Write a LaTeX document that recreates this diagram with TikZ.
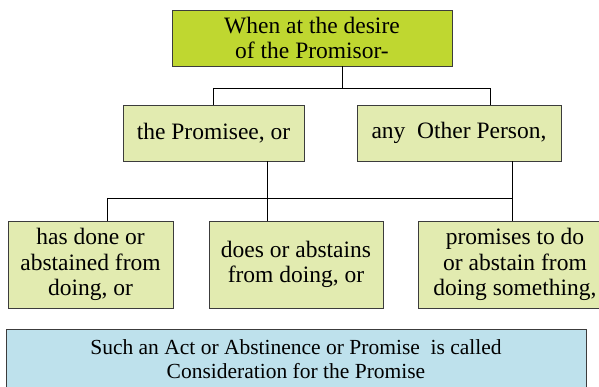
\documentclass[tikz,border=0pt]{standalone}
\usepackage{fontspec}
\setmainfont{Liberation Serif}
\definecolor{topgreen}{RGB}{191,215,48}
\definecolor{lightgreen}{RGB}{226,235,176}
\definecolor{lightblue}{RGB}{190,225,236}
\definecolor{edge}{RGB}{60,60,60}
\tikzset{
  boxbase/.style={draw=edge, line width=0.9pt, rectangle, align=center, inner sep=0pt,
    font=\fontsize{23.5}{25.5}\selectfont},
  topbox/.style={boxbase, fill=topgreen},
  greenbox/.style={boxbase, fill=lightgreen},
  bluebox/.style={boxbase, fill=lightblue, font=\fontsize{21.5}{23.5}\selectfont},
  conn/.style={draw=black, line width=0.9pt}
}
\begin{document}
\begin{tikzpicture}[x=1pt,y=1pt]
\useasboundingbox (0,0) rectangle (599,-387);
\clip (0,0) rectangle (599,-387);
\node[topbox, minimum width=280pt, minimum height=56pt] (top) at (312,-38) {When at the desire\\of the Promisor-};
\node[greenbox, minimum width=181pt, minimum height=56pt] (pee) at (213.5,-133) {the Promisee, or};
\node[greenbox, minimum width=204pt, minimum height=56pt] (oth) at (459,-133) {any\ \ Other Person,};
\node[greenbox, minimum width=165pt, minimum height=87pt] (b1) at (90.5,-264.5) {has done or\\abstained from\\doing, or};
\node[greenbox, minimum width=174pt, minimum height=87pt] (b2) at (296,-264.5) {does or abstains\\from doing, or};
\node[greenbox, minimum width=194pt, minimum height=87pt] (b3) at (515,-264.5) {promises to do\\or abstain from\\doing something,};
\node[bluebox, minimum width=580pt, minimum height=60pt] (bl) at (296,-359) {Such an Act or Abstinence or Promise\ \ is called\\Consideration for the Promise};
\coordinate (t1) at (342,-88);
\coordinate (t2) at (490,-88);
\coordinate (m0) at (107,-198);
\coordinate (m1) at (267,-198);
\coordinate (m2) at (512,-198);
\draw[conn] (top.south -| t1) -- (t1);
\draw[conn] (pee.north |- t1) -- (t2) -- (oth.north -| t2);
\draw[conn] (pee.north |- t1) -- (pee.north);
\draw[conn] (pee.south -| m1) -- (b2.north -| m1);
\draw[conn] (oth.south -| m2) -- (b3.north -| m2);
\draw[conn] (m0) -- (m2);
\draw[conn] (m0) -- (b1.north -| m0);
\end{tikzpicture}
\end{document}
